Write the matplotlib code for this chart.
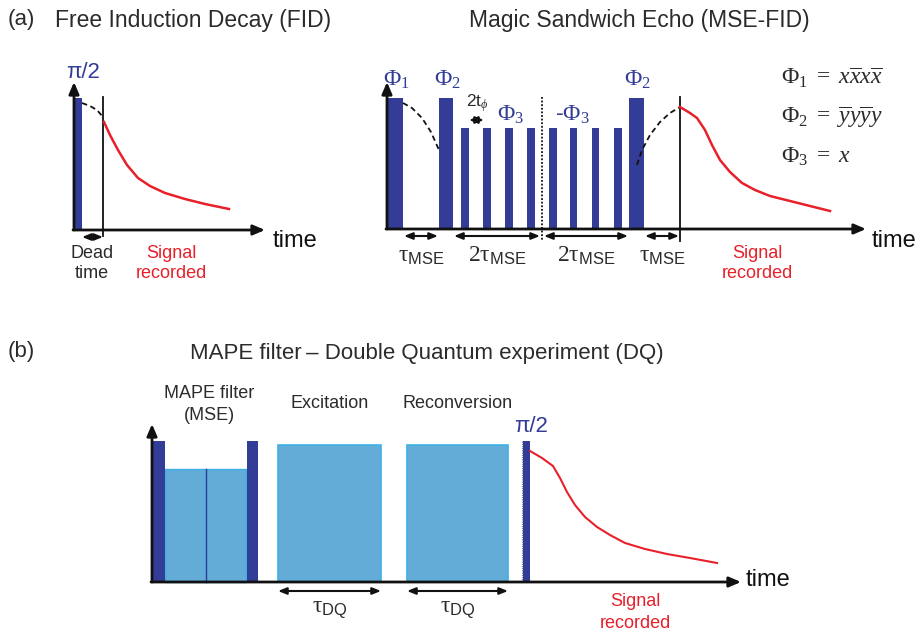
import matplotlib as mpl
mpl.use("Agg")
import matplotlib.pyplot as plt
from matplotlib.patches import Rectangle

plt.rcParams["font.family"] = ["Liberation Sans", "DejaVu Sans"]
plt.rcParams["mathtext.fontset"] = "custom"
plt.rcParams["mathtext.rm"] = "Liberation Serif"
plt.rcParams["mathtext.it"] = "Liberation Serif:italic"
plt.rcParams["mathtext.sf"] = "Liberation Sans"

DARK = "#333c96"
LIGHT = "#63acd8"
LIGHT_EDGE = "#3fb0e6"
RED = "#e8202a"
TXT = "#2b2b2b"

# ---- panel (a) FID ----
fid_pulse = (74, 82, 98)            # left, right, top
fid_dead_x = 103
fid_dash_x = [82, 90, 97, 103]
fid_dash_y = [103, 106, 110, 117]
fid_sig_x = [104, 110, 118, 127, 138, 150, 165, 185, 205, 229]
fid_sig_y = [122, 135, 150, 165, 178, 186, 193, 199, 204, 209]

# ---- panel (a) MSE-FID ----
mse_big = [(387, 403), (439, 453), (629, 644)]
mse_big_top = 98
mse_small = [(461, 469), (483, 491), (505, 513), (527, 535),
             (549, 557), (570, 577), (592, 599), (614, 622)]
mse_small_top = 128
mse_mid_x = 542
mse_echo_x = 680
mse_dash1_x = [403, 412, 422, 431, 439]
mse_dash1_y = [103, 108, 118, 132, 150]
mse_dash2_x = [637, 642, 650, 660, 670, 680]
mse_dash2_y = [165, 150, 135, 122, 113, 107]
mse_sig_x = [680, 690, 697, 705, 712, 720, 730, 742, 755, 770, 790, 810, 830]
mse_sig_y = [107, 113, 118, 130, 145, 160, 172, 183, 190, 196, 201, 206, 211]
mse_spans = [(403, 439, r"$\mathrm{\tau}_{\mathsf{MSE}}$"),
             (453, 541, r"$2\mathrm{\tau}_{\mathsf{MSE}}$"),
             (543, 629, r"$2\mathrm{\tau}_{\mathsf{MSE}}$"),
             (644, 680, r"$\mathrm{\tau}_{\mathsf{MSE}}$")]
equations = [r"$\Phi_1\ =\ x\overline{x}x\overline{x}$",
             r"$\Phi_2\ =\ \overline{y}y\overline{y}y$",
             r"$\Phi_3\ =\ x$"]

# ---- panel (b) DQ ----
dq_dark = [(152, 165), (247, 258), (523, 530)]
dq_dark_top = 441
dq_mape = [(165, 206), (206, 246)]
dq_mape_top = 469
dq_boxes = [(278, 381, "Excitation"), (407, 508, "Reconversion")]
dq_box_top = 445
dq_sig_x = [530, 542, 553, 560, 567, 575, 585, 597, 610, 625, 645, 667, 690, 717]
dq_sig_y = [451, 458, 466, 478, 492, 505, 517, 527, 535, 543, 549, 554, 558, 563]

fig = plt.figure(figsize=(9.17, 6.31), dpi=100)
ax = fig.add_axes([0, 0, 1, 1])
ax.set_xlim(0, 917)
ax.set_ylim(631, 0)
ax.axis("off")


def axis_arrow(x0, y0, x1, y1):
    ax.annotate("", xy=(x1, y1), xytext=(x0, y0),
                arrowprops=dict(arrowstyle="-|>,head_length=0.7,head_width=0.3",
                                lw=2, color="#111111", shrinkA=0, shrinkB=0))


def span_arrow(x0, x1, y):
    ax.annotate("", xy=(x1, y), xytext=(x0, y),
                arrowprops=dict(arrowstyle="<|-|>,head_length=0.5,head_width=0.2",
                                lw=1.5, color="#111111", shrinkA=0, shrinkB=0))


def pulse(l, r, top, base, color=DARK, ec=None, lw=0):
    ax.add_patch(Rectangle((l, top), r - l, base - top, facecolor=color,
                           edgecolor=ec if ec else color, lw=lw, zorder=2))


# titles
ax.text(8, 20, "(a)", fontsize=16, color=TXT, va="center")
ax.text(55, 20, "Free Induction Decay (FID)", fontsize=16.5, color=TXT, va="center")
ax.text(639, 20, "Magic Sandwich Echo (MSE-FID)", fontsize=16.5, color=TXT,
        va="center", ha="center")
ax.text(8, 352, "(b)", fontsize=16, color=TXT, va="center")
ax.text(427, 354, "MAPE filter\u2009\u2013 Double Quantum experiment (DQ)", fontsize=16,
        color=TXT, va="center", ha="center")

# FID panel
base = 230
pulse(fid_pulse[0], fid_pulse[1], fid_pulse[2], base)
axis_arrow(74, base, 74, 82)
axis_arrow(73, base, 265, base)
ax.plot([fid_dead_x, fid_dead_x], [97, 236], color="#111111", lw=1.3)
ax.plot(fid_dash_x, fid_dash_y, color="#111111", lw=1.3, ls=(0, (3, 2)))
ax.plot(fid_sig_x, fid_sig_y, color=RED, lw=1.8)
ax.text(83, 72, "\u03c0/2", fontsize=16, color=DARK, ha="center", va="center")
span_arrow(82, 103, 237)
ax.text(92, 253, "Dead", fontsize=13, color=TXT, ha="center", va="center")
ax.text(92, 273, "time", fontsize=13, color=TXT, ha="center", va="center")
ax.text(171, 253, "Signal", fontsize=13, color=RED, ha="center", va="center")
ax.text(171, 273, "recorded", fontsize=13, color=RED, ha="center", va="center")
ax.text(273, 241, "time", fontsize=17, color="#111111", va="center")

# MSE panel
base = 229
for l, r in mse_big:
    pulse(l, r, mse_big_top, base)
for l, r in mse_small:
    pulse(l, r, mse_small_top, base)
axis_arrow(387, base, 387, 82)
axis_arrow(386, base, 866, base)
ax.plot([mse_mid_x, mse_mid_x], [97, 240], color="#111111", lw=1.3, ls=(0, (1, 1)))
ax.plot([mse_echo_x, mse_echo_x], [97, 241], color="#111111", lw=1.3)
ax.plot(mse_dash1_x, mse_dash1_y, color="#111111", lw=1.3, ls=(0, (3, 2)))
ax.plot(mse_dash2_x, mse_dash2_y, color="#111111", lw=1.3, ls=(0, (3, 2)))
ax.plot(mse_sig_x, mse_sig_y, color=RED, lw=1.8)
ax.text(396, 80, r"$\Phi_1$", fontsize=17, color=DARK, ha="center", va="center")
ax.text(447, 80, r"$\Phi_2$", fontsize=17, color=DARK, ha="center", va="center")
ax.text(637, 80, r"$\Phi_2$", fontsize=17, color=DARK, ha="center", va="center")
ax.text(511, 115, r"$\Phi_3$", fontsize=17, color=DARK, ha="center", va="center")
ax.text(572, 115, r"-$\Phi_3$", fontsize=17, color=DARK, ha="center", va="center")
ax.text(477, 103, r"2t$_{\phi}$", fontsize=12.5, color=TXT, ha="center", va="center")
span_arrow(469, 484, 120)
for x0, x1, lab in mse_spans:
    span_arrow(x0 + 1, x1 - 1, 236)
    ax.text((x0 + x1) / 2, 256, lab, fontsize=17, color=TXT, ha="center", va="center")
for i, eq in enumerate(equations):
    ax.text(781, 78 + 39.5 * i, eq, fontsize=17, color=TXT, va="center")
ax.text(872, 241, "time", fontsize=17, color="#111111", va="center")
ax.text(757, 254, "Signal", fontsize=13, color=RED, ha="center", va="center")
ax.text(757, 273, "recorded", fontsize=13, color=RED, ha="center", va="center")

# DQ panel
base = 582
for l, r in dq_mape:
    pulse(l, r, dq_mape_top, base, color=LIGHT, ec=LIGHT_EDGE, lw=1)
ax.plot([206, 206], [dq_mape_top, base], color=DARK, lw=1)
for l, r in dq_dark:
    pulse(l, r, dq_dark_top, base)
ax.plot([522, 522], [dq_dark_top, base], color="#777777", lw=0.8, ls=(0, (1, 1)))
for l, r, lab in dq_boxes:
    pulse(l, r, dq_box_top, base, color=LIGHT, ec=LIGHT_EDGE, lw=1.2)
    ax.text((l + r) / 2, 404, lab, fontsize=13, color=TXT, ha="center", va="center")
    span_arrow(l, r, 591)
    ax.text((l + r) / 2, 609, r"$\mathrm{\tau}_{\mathsf{DQ}}$", fontsize=17, color=TXT,
            ha="center", va="center")
axis_arrow(152, base, 152, 424)
axis_arrow(151, base, 741, base)
ax.plot(dq_sig_x, dq_sig_y, color=RED, lw=1.5)
ax.text(209, 393, "MAPE filter", fontsize=13, color=TXT, ha="center", va="center")
ax.text(209, 416, "(MSE)", fontsize=13, color=TXT, ha="center", va="center")
ax.text(531, 427, "\u03c0/2", fontsize=16, color=DARK, ha="center", va="center")
ax.text(746, 580, "time", fontsize=17, color="#111111", va="center")
ax.text(635, 602, "Signal", fontsize=13, color=RED, ha="center", va="center")
ax.text(635, 623, "recorded", fontsize=13, color=RED, ha="center", va="center")

fig.savefig("out.png", dpi=100)
